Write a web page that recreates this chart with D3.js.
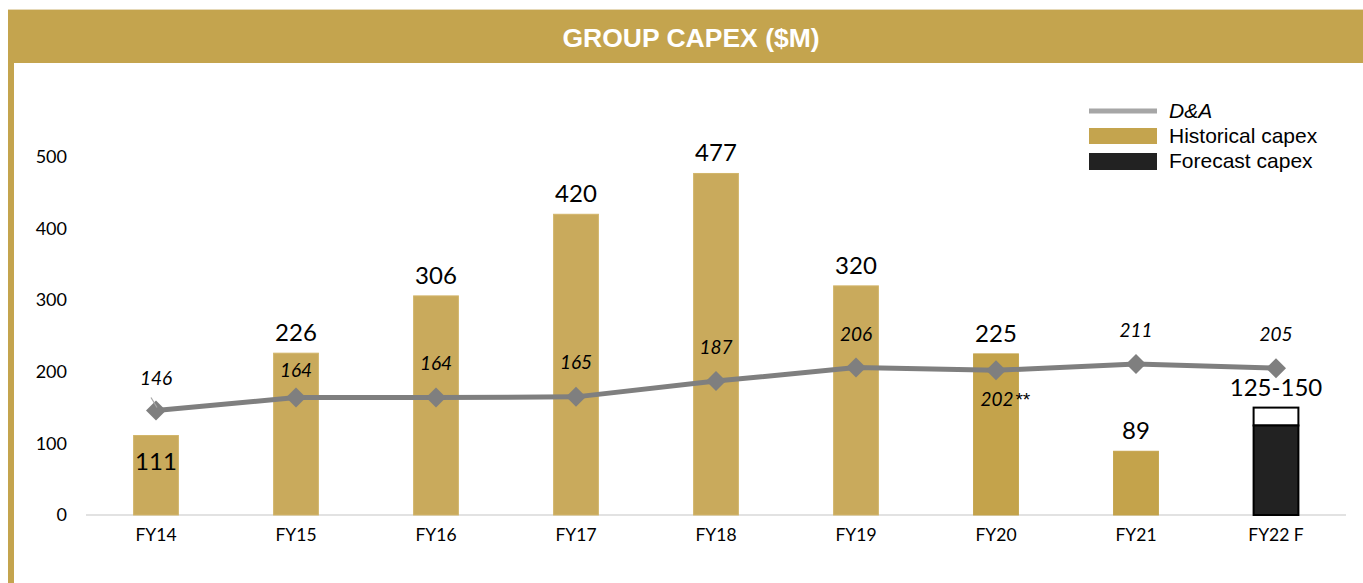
<!DOCTYPE html>
<html><head><meta charset="utf-8">
<script src="https://cdn.jsdelivr.net/npm/d3@7"></script>
<style>body{margin:0;background:#fff}svg{display:block}</style>
</head><body>
<svg id="c" width="1363" height="583"></svg>
<script>
const categories = ["FY14","FY15","FY16","FY17","FY18","FY19","FY20","FY21","FY22 F"];
const capex = [111,226,306,420,477,320,225,89,125];
const capexHigh = [null,null,null,null,null,null,null,null,150];
const capexLabels = ["111","226","306","420","477","320","225","89","125-150"];
const forecast = [false,false,false,false,false,false,false,false,true];
const da = [146,164,164,165,187,206,202,211,205];
const daLabels = ["146","164","164","165","187","206","202","211","205"];
const daSuffix = ["","","","","","","**","",""];
const yTicks = [0,100,200,300,400,500];

const gold = "#C4A44E", barGold = "#C9AA5C", barGold2 = "#C4A34B";
const svg = d3.select("#c");
// frame
svg.append("rect").attr("x",8).attr("y",10).attr("width",1355).attr("height",53).attr("fill",gold);
svg.append("rect").attr("x",8).attr("y",9).attr("width",1355).attr("height",1).attr("fill","#E6D9B8");
svg.append("rect").attr("x",8).attr("y",63).attr("width",6).attr("height",520).attr("fill",gold);
svg.append("text").attr("x",691).attr("y",47).attr("text-anchor","middle")
  .attr("font-family","Liberation Sans, Arial").attr("font-weight","bold").attr("font-size",26.5)
  .attr("fill","#fff").text("GROUP CAPEX ($M)");

const x = d3.scaleBand().domain(categories).range([86,1346]).paddingInner(0.68).paddingOuter(0.34);
const y = d3.scaleLinear().domain([0,500]).range([515,157]);
const cx = d => x(d)+x.bandwidth()/2;

// y axis labels
const ya = svg.append("g").attr("transform","translate(67,0)")
  .call(d3.axisLeft(y).tickValues(yTicks).tickSize(0).tickPadding(0));
ya.select(".domain").remove();
ya.selectAll("text").attr("font-family","Lato, Carlito, sans-serif").attr("font-size",18).attr("fill","#000");

// baseline
svg.append("line").attr("x1",86).attr("x2",1346).attr("y1",y(0)).attr("y2",y(0))
  .attr("stroke","#D9D9D9").attr("stroke-width",1.5);

// x axis labels
const xa = svg.append("g").attr("transform",`translate(0,${y(0)+14})`)
  .call(d3.axisBottom(x).tickSize(0).tickPadding(0));
xa.select(".domain").remove();
xa.selectAll("text").attr("font-family","Lato, Carlito, sans-serif").attr("font-size",17.5).attr("fill","#000");

// bars
categories.forEach((c,i)=>{
  if(!forecast[i]){
    svg.append("rect").attr("x",x(c)).attr("y",y(capex[i])).attr("width",x.bandwidth())
      .attr("height",y(0)-y(capex[i])).attr("fill", i>=6?barGold2:barGold)
      .attr("stroke",i>=6?barGold2:"#D2B56A").attr("stroke-width",1);
  } else {
    svg.append("rect").attr("x",x(c)).attr("y",y(capexHigh[i])).attr("width",x.bandwidth())
      .attr("height",y(capex[i])-y(capexHigh[i])).attr("fill","#fff").attr("stroke","#000").attr("stroke-width",2);
    svg.append("rect").attr("x",x(c)).attr("y",y(capex[i])).attr("width",x.bandwidth())
      .attr("height",y(0)-y(capex[i])).attr("fill","#222").attr("stroke","#000").attr("stroke-width",2);
  }
});

// capex labels
categories.forEach((c,i)=>{
  const top = forecast[i] ? y(capexHigh[i]) : y(capex[i]);
  const inside = i===0;
  svg.append("text").attr("x",cx(c)).attr("y", inside ? top+34 : top-12)
    .attr("text-anchor","middle").attr("font-family","Lato, Carlito, sans-serif")
    .attr("font-size",24).attr("fill","#000").text(capexLabels[i]);
});

// D&A line
const line = d3.line().x((d,i)=>cx(categories[i])).y(d=>y(d));
svg.append("path").datum(da).attr("d",line).attr("fill","none").attr("stroke","#7F7F7F").attr("stroke-width",5);
svg.selectAll(".mk").data(da).enter().append("path")
  .attr("d",d3.symbol().type(d3.symbolSquare).size(200))
  .attr("transform",(d,i)=>`translate(${cx(categories[i])},${y(d)}) rotate(45)`)
  .attr("fill","#7F7F7F");

// D&A labels
const daOff = [-25,-21,-28,-28,-27,-27,36,-27,-27];
da.forEach((d,i)=>{
  const t = svg.append("text").attr("x",cx(categories[i])+(i===6?9:0)).attr("y",y(d)+daOff[i])
    .attr("text-anchor","middle").attr("font-family","Lato, Carlito, sans-serif")
    .attr("font-style","italic").attr("font-size",19).attr("fill","#000");
  t.append("tspan").text(daLabels[i]);
  if(daSuffix[i]) t.append("tspan").attr("font-family","Liberation Sans, Arial").attr("font-size",19).attr("dx",1).text(daSuffix[i]);
});
// leader line FY14
svg.append("line").attr("x1",cx(categories[0])-5).attr("y1",y(da[0])-13)
  .attr("x2",cx(categories[0])+1).attr("y2",y(da[0])-3).attr("stroke","#A6A6A6").attr("stroke-width",1.2);

// legend
const lg = svg.append("g").attr("font-family","Liberation Sans, Arial").attr("font-size",21);
lg.append("line").attr("x1",1089).attr("x2",1157).attr("y1",111).attr("y2",111).attr("stroke","#A6A6A6").attr("stroke-width",5);
lg.append("text").attr("x",1169).attr("y",118).attr("font-style","italic").text("D&A");
lg.append("rect").attr("x",1089).attr("y",128).attr("width",68).attr("height",16).attr("fill",gold);
lg.append("text").attr("x",1169).attr("y",143).text("Historical capex");
lg.append("rect").attr("x",1089).attr("y",153).attr("width",68).attr("height",17).attr("fill","#222");
lg.append("text").attr("x",1169).attr("y",168).text("Forecast capex");
</script>
</body></html>
